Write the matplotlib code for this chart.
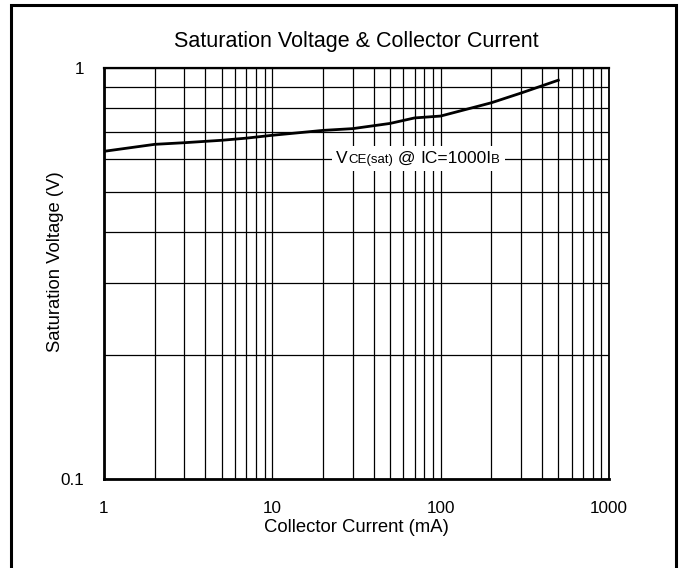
import numpy as np
import matplotlib.pyplot as plt
from matplotlib.patches import Rectangle
from matplotlib.transforms import Bbox
from matplotlib.ticker import FixedLocator, NullFormatter, FixedFormatter

plt.rcParams['font.family'] = ['Liberation Sans', 'DejaVu Sans']

# #
# Data
# #
collector_current = [1, 2, 3, 5, 7, 10, 20, 30, 50, 70, 100, 200, 300, 500]   # mA
saturation_voltage = [0.627, 0.652, 0.658, 0.667, 0.675, 0.686, 0.705, 0.712,
                      0.733, 0.756, 0.764, 0.823, 0.869, 0.934]              # V

x_ticks = [1, 10, 100, 1000]
x_tick_labels = ['1', '10', '100', '1000']
y_ticks = [0.1, 1]
y_tick_labels = ['0.1', '1']

# label pieces: (text, is_subscript)
label_parts = [('V', False), ('CE(sat)', True), (' @ ', False),
               ('IC=1000I', False), ('B', True)]

# #
# Plot
# #
fig = plt.figure(figsize=(6.82, 5.68), dpi=100)
ax = fig.add_axes([104 / 682, 1 - 479 / 568, (609 - 104) / 682, (479 - 68) / 568])

# outer frame
fig.patches.append(Rectangle((11 / 682, -0.01), (676 - 11) / 682, 1 - 5 / 568 + 0.01,
                             transform=fig.transFigure, fill=False,
                             edgecolor='black', linewidth=2.2))

ax.set_xscale('log')
ax.set_yscale('log')
ax.set_xlim(1, 1000)
ax.set_ylim(0.1, 1)

ax.xaxis.set_major_locator(FixedLocator(x_ticks))
ax.xaxis.set_major_formatter(FixedFormatter(x_tick_labels))
ax.yaxis.set_major_locator(FixedLocator(y_ticks))
ax.yaxis.set_major_formatter(FixedFormatter(y_tick_labels))
ax.xaxis.set_minor_locator(FixedLocator([m * 10 ** d for d in range(3) for m in range(2, 10)]))
ax.yaxis.set_minor_locator(FixedLocator([m / 10 for m in range(2, 10)]))
ax.xaxis.set_minor_formatter(NullFormatter())
ax.yaxis.set_minor_formatter(NullFormatter())
ax.tick_params(which='both', length=0, labelsize=12.3, pad=14.5)
ax.tick_params(axis='x', pad=16)

ax.grid(True, which='both', color='black', linewidth=0.9)
for s in ax.spines.values():
    s.set_linewidth(1.3)
ax.spines['left'].set_linewidth(2)
ax.spines['bottom'].set_linewidth(2)
ax.spines['top'].set_linewidth(1.6)

ax.plot(collector_current, saturation_voltage, color='black', linewidth=2, zorder=3)

# VCE(sat) @ IC=1000IB, subscripts smaller but on the baseline
texts = []
prev = None
for part, small in label_parts:
    size = 9.5 if small else 12.5
    if prev is None:
        t = ax.text(24, 0.587, part, fontsize=size, va='baseline', ha='left', zorder=5)
    else:
        t = ax.annotate(part, xy=(1, 0.587), xycoords=(prev, 'data'),
                        fontsize=size, va='baseline', ha='left', zorder=5)
    texts.append(t)
    prev = t

ax.set_title('Saturation Voltage & Collector Current', fontsize=15.5, pad=15)
ax.set_xlabel('Collector Current (mA)', fontsize=13.3, labelpad=2)
ax.set_ylabel('Saturation Voltage (V)', fontsize=13.3)
ax.yaxis.set_label_coords(-0.08, 0.53)

# white box behind the label, breaking the grid
fig.canvas.draw()
r = fig.canvas.get_renderer()
bb = Bbox.union([t.get_window_extent(r) for t in texts])
yc = (bb.y0 + bb.y1) / 2
box = Bbox([[bb.x0 - 4, yc - 12], [bb.x1 + 5, yc + 13]]).transformed(ax.transAxes.inverted())
ax.add_patch(Rectangle((box.x0, box.y0), box.width, box.height, transform=ax.transAxes,
                       facecolor='white', edgecolor='none', zorder=4))

fig.savefig('out.png', dpi=100)
